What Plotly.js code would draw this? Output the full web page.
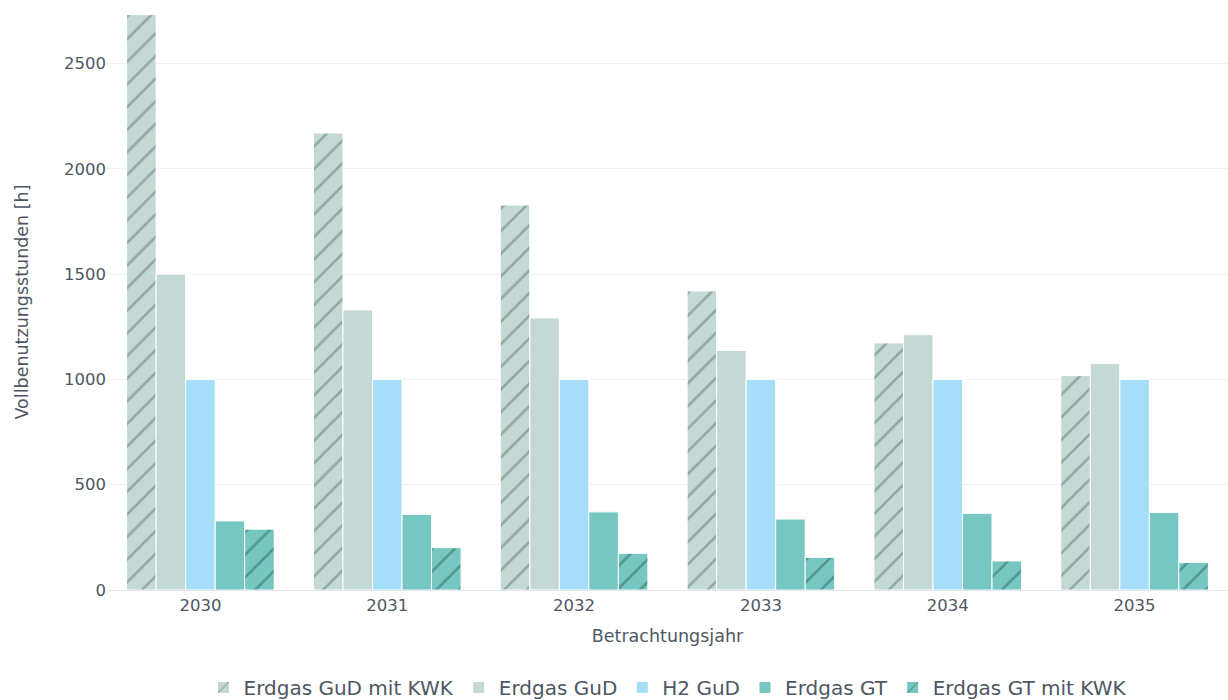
<!DOCTYPE html>
<html>
<head>
<meta charset="utf-8">
<script src="https://cdn.plot.ly/plotly-3.0.1.min.js"></script>
<style>html,body{margin:0;padding:0;background:#fff;}#chart{width:1228px;height:700px;}</style>
</head>
<body>
<div id="chart"></div>
<script>
const years = ["2030", "2031", "2032", "2033", "2034", "2035"];
const erdgasGuDKWK = [2732, 2170, 1828, 1420, 1173, 1018];
const erdgasGuD = [1500, 1330, 1292, 1137, 1212, 1076];
const h2GuD = [1000, 1000, 1000, 1000, 1000, 1000];
const erdgasGT = [328, 359, 371, 337, 364, 368];
const erdgasGTKWK = [289, 201, 174, 155, 138, 131];

const seriesNames = ["Erdgas GuD mit KWK", "Erdgas GuD", "H2 GuD", "Erdgas GT", "Erdgas GT mit KWK"];
const seriesValues = [erdgasGuDKWK, erdgasGuD, h2GuD, erdgasGT, erdgasGTKWK];
const colors = ["#c4d8d6", "#c4d8d6", "#a6defa", "#76c7c1", "#76c7c1"];
const patterns = ["/", "", "", "", "/"];
const patternFg = ["#5a7371", "#5a7371", "#5a7371", "#5a7371", "#2a615e"];

const traces = seriesNames.map((n, i) => ({
  type: "bar",
  name: n,
  x: years,
  y: seriesValues[i],
  marker: {
    color: colors[i],
    line: {color: "#ffffff", width: 1},
    pattern: {shape: patterns[i], fgcolor: patternFg[i], bgcolor: colors[i], size: 16, solidity: 0.16, fillmode: "overlay"}
  },
  hovertemplate: "%{x}: %{y}<extra>" + n + "</extra>"
}));

const font = "Verdana, 'DejaVu Sans', sans-serif";
const textColor = "#4e5763";
const layout = {
  width: 1228, height: 700,
  margin: {l: 107, r: 0, t: 14, b: 110, autoexpand: false},
  paper_bgcolor: "#ffffff", plot_bgcolor: "#ffffff",
  font: {family: font, size: 16, color: textColor},
  barmode: "group",
  bargap: 0.21,
  bargroupgap: 0,
  xaxis: {
    type: "category",
    title: {text: "Betrachtungsjahr", font: {size: 17.5, color: textColor}, standoff: 15},
    tickfont: {size: 16.5},
    showgrid: false,
    showline: true, linecolor: "#e3e8ee", linewidth: 1,
    ticks: "",
    automargin: false
  },
  yaxis: {
    title: {text: "Vollbenutzungsstunden [h]", font: {size: 17.5, color: textColor}, standoff: 30},
    range: [0, 2735],
    tickvals: [0, 500, 1000, 1500, 2000, 2500],
    tickfont: {size: 16.5},
    gridcolor: "#eef1f4",
    zeroline: false,
    showline: false,
    ticks: "",
    automargin: false
  },
  legend: {
    orientation: "h", x: 0.5, xanchor: "center",
    yref: "container", y: 0.018, yanchor: "middle",
    font: {size: 20, color: textColor},
    traceorder: "normal"
  },
  showlegend: true
};

Plotly.newPlot("chart", traces, layout, {displayModeBar: false, staticPlot: true});
</script>
</body>
</html>
